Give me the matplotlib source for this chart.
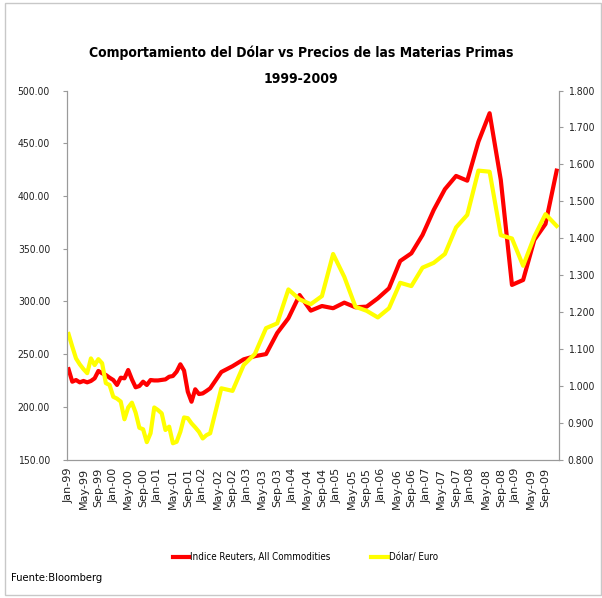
import numpy as np
import matplotlib.pyplot as plt
from matplotlib.patches import Rectangle
from matplotlib.ticker import FixedLocator, FormatStrFormatter

# fechas de cada punto (mensual hasta feb-02, luego trimestral)
fechas = ['1999-01', '1999-02', '1999-03', '1999-04', '1999-05', '1999-06',
          '1999-07', '1999-08', '1999-09', '1999-10', '1999-11', '1999-12',
          '2000-01', '2000-02', '2000-03', '2000-04', '2000-05', '2000-06',
          '2000-07', '2000-08', '2000-09', '2000-10', '2000-11', '2000-12',
          '2001-01', '2001-02', '2001-03', '2001-04', '2001-05', '2001-06',
          '2001-07', '2001-08', '2001-09', '2001-10', '2001-11', '2001-12',
          '2002-01', '2002-02', '2002-03', '2002-06', '2002-09', '2002-12',
          '2003-03', '2003-06', '2003-09', '2003-12', '2004-03', '2004-06',
          '2004-09', '2004-12', '2005-03', '2005-06', '2005-09', '2005-12',
          '2006-03', '2006-06', '2006-09', '2006-12', '2007-03', '2007-06',
          '2007-09', '2007-12', '2008-03', '2008-06', '2008-09', '2008-12',
          '2009-03', '2009-06', '2009-09', '2009-12']

reuters = [235.6, 223.8, 225.4, 223.2, 224.5, 223.2, 224.5, 227.0, 234.0, 231.8,
           230.2, 227.6, 225.4, 220.7, 227.6, 227.0, 234.9, 226.0, 218.5, 219.7,
           223.8, 220.7, 225.4, 225.0, 225.0, 225.5, 226.0, 228.5, 229.2, 233.3,
           240.3, 234.3, 214.3, 204.8, 216.6, 212.1, 212.7, 215.0, 217.5, 233.0,
           238.5, 245.0, 248.0, 250.0, 270.0, 284.0, 306.0, 291.2, 295.6, 293.5,
           298.8, 294.4, 295.0, 302.9, 312.4, 338.3, 345.6, 363.0, 386.7, 406.4,
           419.0, 414.5, 451.5, 478.5, 415.2, 315.6, 320.3, 358.3, 373.4, 424.0]

dolar_euro = [1.140, 1.106, 1.074, 1.058, 1.045, 1.034, 1.074, 1.056, 1.072, 1.061,
              1.007, 1.002, 0.970, 0.965, 0.957, 0.909, 0.941, 0.954, 0.927, 0.886,
              0.882, 0.847, 0.871, 0.941, 0.934, 0.925, 0.880, 0.889, 0.844, 0.848,
              0.875, 0.914, 0.912, 0.898, 0.887, 0.875, 0.857, 0.866, 0.871, 0.993,
              0.986, 1.056, 1.086, 1.156, 1.169, 1.261, 1.234, 1.221, 1.243, 1.357,
              1.295, 1.214, 1.203, 1.185, 1.210, 1.279, 1.270, 1.320, 1.333, 1.357,
              1.429, 1.463, 1.583, 1.580, 1.408, 1.399, 1.325, 1.404, 1.465, 1.433]

meses = ['Jan', 'May', 'Sep']
anios = list(range(1999, 2010))

# posicion en meses desde ene-99 (centro de categoria)
x = np.array([(int(f[:4]) - 1999) * 12 + int(f[5:]) - 1 for f in fechas]) + 0.5

tick_lab = []
tick_pos = []
for a in anios:
    for i, m in enumerate(meses):
        tick_lab.append('%s-%02d' % (m, a % 100))
        tick_pos.append((a - 1999) * 12 + i * 4 + 0.5)

plt.rcParams['font.family'] = ['DejaVu Sans']
plt.rcParams['font.stretch'] = 'condensed'

fig = plt.figure(figsize=(6.02, 5.98), dpi=100)
fig.patches.append(Rectangle((0.008, 0.005), 0.99, 0.99, transform=fig.transFigure,
                             fill=False, edgecolor='#c8c8c8', linewidth=1))

ax = fig.add_axes([0.1108, 0.2316, 0.817, 0.617])
ax2 = ax.twinx()

ax.plot(x, reuters, color='#ff0000', lw=3, solid_joinstyle='round',
        label='Indice Reuters, All Commodities')
ax2.plot(x, dolar_euro, color='#ffff00', lw=3, solid_joinstyle='round',
         label='Dólar/ Euro')

ax.set_xlim(0, 132)
ax.set_ylim(150, 500)
ax2.set_ylim(0.8, 1.8)
ax.yaxis.set_major_locator(FixedLocator(np.arange(150, 501, 50)))
ax2.yaxis.set_major_locator(FixedLocator(np.arange(0.8, 1.801, 0.1)))
ax.yaxis.set_major_formatter(FormatStrFormatter('%.2f'))
ax2.yaxis.set_major_formatter(FormatStrFormatter('%.3f'))

ax.set_xticks(tick_pos)
ax.set_xticklabels(tick_lab, rotation=90, fontsize=8, fontstretch='normal',
                   color='#222222')
ax.tick_params(axis='x', length=0, pad=6)

for a_ in (ax, ax2):
    a_.spines['top'].set_visible(False)
    for s in ('left', 'right', 'bottom'):
        a_.spines[s].set_color('#9a9a9a')
    a_.tick_params(axis='y', length=3, color='#9a9a9a', labelsize=7.5,
                   labelcolor='#222222')
ax.tick_params(axis='y', pad=9)

fig.text(0.5, 0.912, 'Comportamiento del Dólar vs Precios de las Materias Primas',
         ha='center', va='center', fontsize=10, fontweight='bold')
fig.text(0.5, 0.868, '1999-2009', ha='center', va='center', fontsize=10,
         fontweight='bold')

h1, l1 = ax.get_legend_handles_labels()
h2, l2 = ax2.get_legend_handles_labels()
fig.legend(h1 + h2, l1 + l2, loc='center', bbox_to_anchor=(0.507, 0.068), ncol=2,
           frameon=False, fontsize=7, handlelength=1.7, handletextpad=0.1,
           columnspacing=4.2)

fig.text(0.018, 0.033, 'Fuente:Bloomberg', ha='left', va='center', fontsize=8)

fig.savefig('out.png', dpi=100)
